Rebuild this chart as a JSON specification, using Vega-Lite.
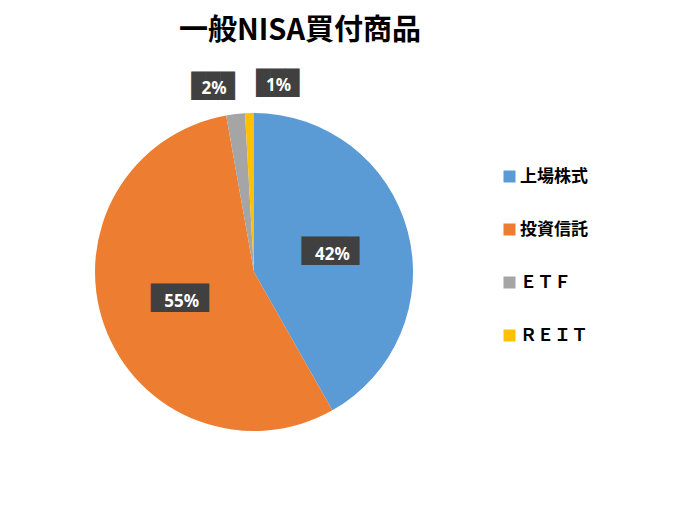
{
  "$schema": "https://vega.github.io/schema/vega-lite/v6.json",
  "autosize": {"type": "none"},
  "width": 318,
  "height": 318,
  "padding": {"left": 95, "top": 113, "right": 261, "bottom": 81},
  "background": "white",
  "config": {"view": {"stroke": null}},
  "title": {
    "text": "一般NISA買付商品",
    "font": "Noto Sans CJK JP",
    "fontSize": 29,
    "fontWeight": "bold",
    "color": "#000000",
    "anchor": "middle",
    "frame": "group",
    "dx": 46,
    "offset": 26
  },
  "data": {
    "values": [
      {"cat": "上場株式", "i": 1, "v": 41.8, "label": "42%"},
      {"cat": "投資信託", "i": 2, "v": 55.4, "label": "55%"},
      {"cat": "ＥＴＦ", "i": 3, "v": 1.9, "label": "2%"},
      {"cat": "ＲＥＩＴ", "i": 4, "v": 0.9, "label": "1%"}
    ]
  },
  "encoding": {
    "theta": {"field": "v", "type": "quantitative", "stack": true},
    "order": {"field": "i", "type": "quantitative"}
  },
  "layer": [
    {
      "mark": {"type": "arc"},
      "encoding": {
        "color": {
          "field": "cat",
          "type": "nominal",
          "sort": ["上場株式", "投資信託", "ＥＴＦ", "ＲＥＩＴ"],
          "scale": {
            "domain": ["上場株式", "投資信託", "ＥＴＦ", "ＲＥＩＴ"],
            "range": ["#5B9BD5", "#ED7D31", "#A5A5A5", "#FFC000"]
          },
          "legend": {
            "title": null,
            "orient": "none",
            "legendX": 406,
            "legendY": 55,
            "padding": 0,
            "symbolType": "square",
            "symbolSize": 144,
            "symbolStrokeWidth": 0,
            "labelFont": "Noto Sans CJK JP",
            "labelFontSize": 17,
            "labelFontWeight": "bold",
            "labelColor": "#000000",
            "labelOffset": 2,
            "rowPadding": 35
          }
        }
      }
    },
    {
      "mark": {"type": "text", "radius": 79, "font": "DejaVu Sans Mono", "fontSize": 24, "color": "#404040", "baseline": "middle"},
      "encoding": {"text": {"condition": {"test": "datum.v > 10", "value": "████"}, "value": ""}}
    },
    {
      "mark": {"type": "text", "radius": 79, "font": "Noto Sans", "fontSize": 17, "fontWeight": "bold", "color": "white", "baseline": "middle", "dx": 2, "dy": 3},
      "encoding": {"text": {"condition": {"test": "datum.v > 10", "field": "label"}, "value": ""}}
    },
    {
      "mark": {"type": "text", "radius": 190, "dx": -19, "dy": 4, "font": "DejaVu Sans Mono", "fontSize": 24, "color": "#404040", "baseline": "middle"},
      "encoding": {"text": {"condition": {"test": "datum.i == 3", "value": "███"}, "value": ""}}
    },
    {
      "mark": {"type": "text", "radius": 190, "dx": -18, "dy": 6, "font": "Noto Sans", "fontSize": 17, "fontWeight": "bold", "color": "white", "baseline": "middle"},
      "encoding": {"text": {"condition": {"test": "datum.i == 3", "field": "label"}, "value": ""}}
    },
    {
      "mark": {"type": "text", "radius": 190, "dx": 29, "dy": 2, "font": "DejaVu Sans Mono", "fontSize": 24, "color": "#404040", "baseline": "middle"},
      "encoding": {"text": {"condition": {"test": "datum.i == 4", "value": "███"}, "value": ""}}
    },
    {
      "mark": {"type": "text", "radius": 190, "dx": 30, "dy": 4, "font": "Noto Sans", "fontSize": 17, "fontWeight": "bold", "color": "white", "baseline": "middle"},
      "encoding": {"text": {"condition": {"test": "datum.i == 4", "field": "label"}, "value": ""}}
    }
  ]
}
